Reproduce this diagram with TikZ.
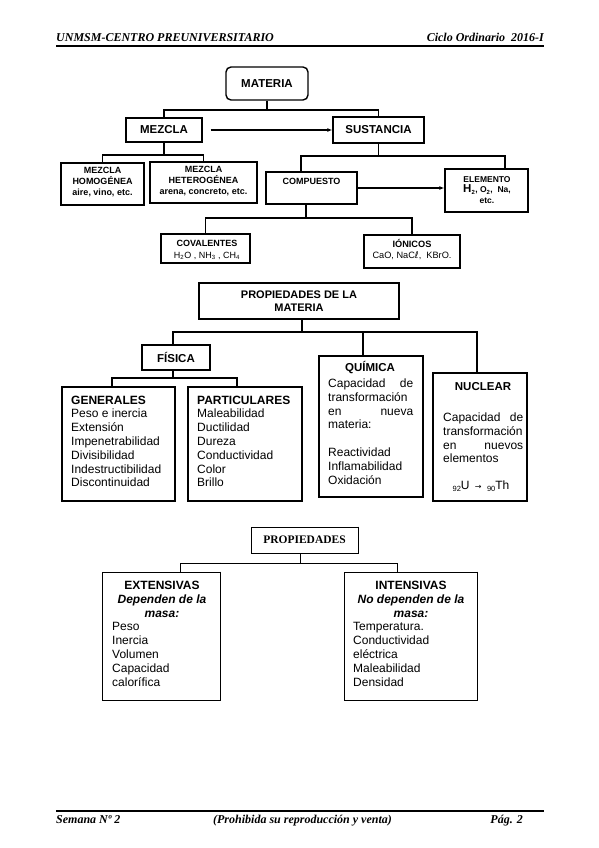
\documentclass[tikz,border=0pt]{standalone}
\usepackage{fontspec}
\setmainfont{Liberation Sans}
\newfontfamily\serifff{Liberation Serif}
\newfontfamily\dejavu{DejaVu Sans}
\usetikzlibrary{arrows.meta}
\newcommand\myfs[2]{\fontsize{#1}{#2}\selectfont}
\begin{document}
\begin{tikzpicture}[x=1pt,y=-1pt,
 box/.style={draw, line width=1.4pt, fill=white, inner sep=0pt},
 sbox/.style={draw, line width=0.8pt, fill=white, inner sep=0pt},
 shade edge/.style={line width=1.8pt},
 conn/.style={line width=1.2pt},
 thin conn/.style={line width=0.9pt},
 arr/.style={conn, -{Latex[length=5pt,width=4pt]}},
 txt/.style={inner sep=0pt, align=center},
 lt/.style={inner sep=0pt, align=left, anchor=north west},
 big/.style={font=\bfseries\myfs{11.5}{13}},
 sm/.style={font=\bfseries\myfs{9}{10.7}},
 body/.style={font=\myfs{12}{13.8}},
 hdr/.style={inner sep=0pt, font=\serifff\bfseries\itshape\myfs{12}{14}},
]
\useasboundingbox[fill=white] (0,0) rectangle (599,848);

% header / footer
\node[hdr, anchor=base west] (h1) at (56,42) {UNMSM-CENTRO PREUNIVERSITARIO};
\node[hdr, anchor=base east] (h2) at (544,42) {Ciclo Ordinario\ \ 2016-I};
\coordinate (hl) at (56,46.5); \coordinate (hr) at (544,46.5);
\draw[line width=2pt] (hl) -- (hr);
\coordinate (fl) at (56,810.5); \coordinate (fr) at (544,810.5);
\draw[line width=2pt] (fl) -- (fr);
\node[hdr, anchor=base west] (f1) at (56,823) {Semana Nº 2};
\node[hdr, anchor=base] (f2) at (302.5,823) {(Prohibida su reproducción y venta)};
\node[hdr, anchor=base east] (f3) at (523,823) {Pág. 2};

% ---------- diagram 1
\node[box, rounded corners=5pt, minimum width=82pt, minimum height=33pt, big] (materia) at (267,83.5) {MATERIA};
\node[box, minimum width=76pt, minimum height=24pt, big] (mezcla) at (164,130) {MEZCLA};
\node[box, minimum width=91pt, minimum height=26pt, big] (sust) at (378.5,130) {SUSTANCIA};
\node[box, minimum width=83pt, minimum height=42pt] (mhom) at (102.5,184) {};
\node[txt, sm] (tmhom) at (102.5,182) {MEZCLA\\HOMOGÉNEA\\aire, vino, etc.};
\node[box, minimum width=107pt, minimum height=41pt] (mhet) at (203.5,182.5) {};
\node[txt, sm] (tmhet) at (203.5,181) {MEZCLA\\HETEROGÉNEA\\arena, concreto, etc.};
\node[box, minimum width=91pt, minimum height=32pt] (comp) at (311.5,188) {};
\node[txt, sm] (tcomp) at (311.5,181) {COMPUESTO};
\node[box, minimum width=83pt, minimum height=43pt] (elem) at (486.5,190.5) {};
\node[txt, sm, font=\bfseries\myfs{8.5}{10.7}] (telem) at (487,190) {ELEMENTO\\{\myfs{11.5}{11}H}\textsubscript{2}, O\textsubscript{2}, \ Na,\\etc.};
\node[box, minimum width=89pt, minimum height=29pt] (cov) at (205.5,248.5) {};
\node[txt, font=\myfs{9}{12.5}] (tcov) at (207,250) {\textbf{COVALENTES}\\H\textsubscript{2}O , NH\textsubscript{3} , CH\textsubscript{4}};
\node[box, minimum width=96pt, minimum height=33pt] (ion) at (412,251.5) {};
\node[txt, font=\myfs{9.2}{11}] (tion) at (412,250) {\textbf{IÓNICOS}\\CaO, NaC{\dejavu ℓ}, \ KBrO.};

\coordinate (j1) at (267,110);
\draw[conn] (materia.south) -- (j1);
\draw[conn] (mezcla.north) |- (j1) -| (sust.north);
\draw[arr, shorten <=8pt] (mezcla.east) -- (sust.west);
\coordinate (j2) at (164,155);
\draw[conn] (mezcla.south) -- (j2);
\draw[conn] (mhom.north) |- (j2) -| (mhet.north);
\coordinate (j3) at (378.5,156);
\coordinate (j3a) at (301,156); \coordinate (j3b) at (505,156);
\draw[conn] (sust.south) -- (j3);
\draw[conn] (j3a |- comp.north) -- (j3a) -- (j3b) -- (j3b |- elem.north);
\draw[arr] (comp.east) -- (comp.east -| elem.west);
\coordinate (j4) at (306,218);
\draw[conn] (j4 |- comp.south) -- (j4);
\draw[conn] (cov.north) |- (j4) -| (ion.north);

% ---------- diagram 2
\node[box, minimum width=200pt, minimum height=36pt, font=\bfseries\myfs{11}{12.5}, align=center] (pm) at (299,301) {PROPIEDADES DE LA\\MATERIA};
\node[box, minimum width=68pt, minimum height=25pt, big] (fis) at (176,357.5) {FÍSICA};
\node[box, minimum width=104pt, minimum height=141pt] (qui) at (371,426.5) {};
\node[box, minimum width=94pt, minimum height=128pt] (nuc) at (480,437) {};
\node[box, minimum width=113pt, minimum height=114pt] (gen) at (118.5,444) {};
\node[box, minimum width=114pt, minimum height=114pt] (par) at (245,444) {};

\coordinate (k1) at (302,332);
\coordinate (k2) at (173,332); \coordinate (k3) at (363,332); \coordinate (k4) at (477,332);
\draw[conn] (k1 |- pm.south) -- (k1);
\draw[conn] (k2 |- fis.north) -- (k2) -- (k4) -- (k4 |- nuc.north);
\draw[conn] (k3) -- (k3 |- qui.north);
\coordinate (k5) at (173,378); \coordinate (k5a) at (112,378); \coordinate (k5b) at (237,378);
\draw[conn] (k5 |- fis.south) -- (k5);
\draw[conn] (k5a |- gen.north) -- (k5a) -- (k5b) -- (k5b |- par.north);

\node[lt, body] (tgen) at (71,395.5) {\textbf{GENERALES}\\Peso e inercia\\Extensión\\Impenetrabilidad\\Divisibilidad\\Indestructibilidad\\Discontinuidad};
\node[lt, body] (tpar) at (197,395.5) {\textbf{PARTICULARES}\\Maleabilidad\\Ductilidad\\Dureza\\Conductividad\\Color\\Brillo};
\node[txt, big] (tqui) at (370,368) {QUÍMICA};
\node[lt, body] (tqui2) at (328,378.5) {\makebox[85pt][s]{Capacidad de}\\transformación\\\makebox[85pt][s]{en nueva}\\materia:\\[13.8pt]Reactividad\\Inflamabilidad\\Oxidación};
\node[txt, big] (tnuc) at (483,387) {NUCLEAR};
\node[lt, body] (tnuc2) at (443,412.5) {\makebox[80pt][s]{Capacidad de}\\transformación\\\makebox[80pt][s]{en nuevos}\\elementos};
\node[txt, font=\myfs{12}{14}] (tnuc3) at (481,486) {{\myfs{7.5}{8}\raisebox{-1.5pt}{92}}U \,{\dejavu\myfs{8}{8}→}\, {\myfs{7.5}{8}\raisebox{-1.5pt}{90}}Th};

% ---------- diagram 3
\node[sbox, minimum width=118pt, minimum height=128pt] (ext) at (161,636) {};
\node[sbox, minimum width=133pt, minimum height=128pt] (int) at (410.5,636) {};
\node[sbox, minimum width=107pt, minimum height=26pt, font=\serifff\bfseries\myfs{11.5}{12}] (prop) at (304.5,540) {PROPIEDADES};
\draw[shade edge] (ext.north east) -- (ext.south east) -- (ext.south west);
\draw[shade edge] (int.north east) -- (int.south east) -- (int.south west);
\draw[shade edge] (prop.north east) -- (prop.south east) -- (prop.south west);
\coordinate (p1) at (300,563); \coordinate (p1a) at (180,563); \coordinate (p1b) at (397,563);
\draw[thin conn] (p1 |- prop.south) -- (p1);
\draw[thin conn] (p1a |- ext.north) -- (p1a) -- (p1b) -- (p1b |- int.north);
\node[txt, font=\bfseries\myfs{12}{14}] (text1) at (162,599) {EXTENSIVAS\\\textit{Dependen de la}\\\textit{masa:}};
\node[lt, font=\myfs{12}{14}] (text2) at (112,622.5) {Peso\\Inercia\\Volumen\\Capacidad\\calorífica};
\node[txt, font=\bfseries\myfs{12}{14}] (tint1) at (411,599) {INTENSIVAS\\\textit{No dependen de la}\\\textit{masa:}};
\node[lt, font=\myfs{12}{14}] (tint2) at (353,622.5) {Temperatura.\\Conductividad\\eléctrica\\Maleabilidad\\Densidad};
\end{tikzpicture}
\end{document}
